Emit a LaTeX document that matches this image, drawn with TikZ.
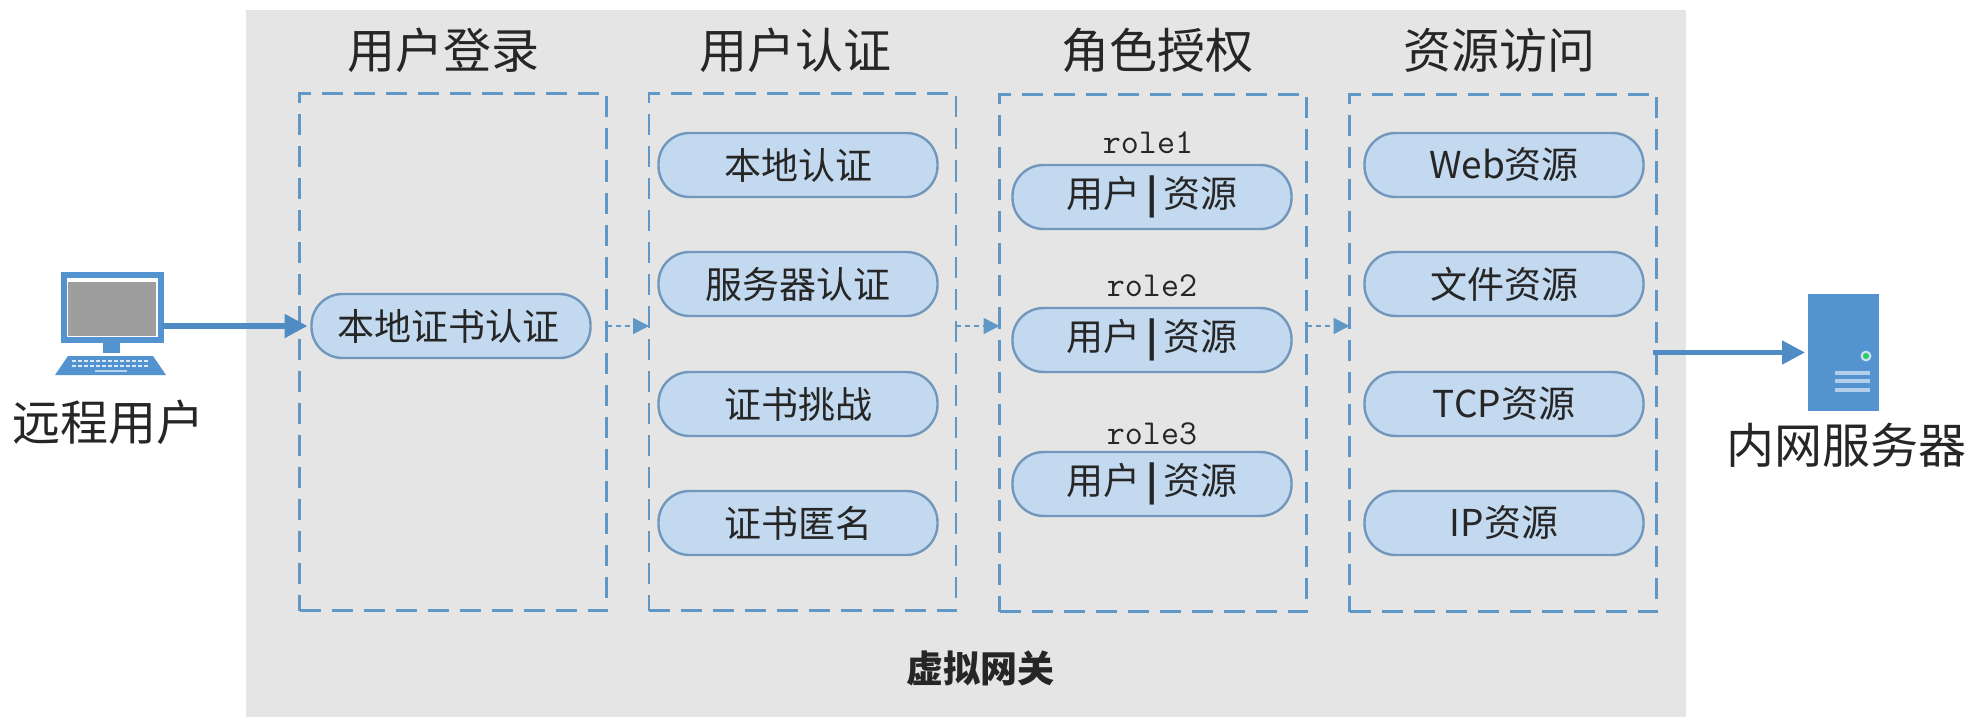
\documentclass[tikz,border=0pt]{standalone}
\usepackage{fontspec}
\usepackage{xcolor}
\usepackage{tikz}
\usetikzlibrary{arrows.meta}
\setmainfont{Noto Sans CJK SC}
\definecolor{panelgray}{HTML}{E5E5E5}
\definecolor{dashblue}{HTML}{5F97C6}
\definecolor{pillfill}{HTML}{C3D9EF}
\definecolor{pilledge}{HTML}{7197BC}
\definecolor{iconblue}{HTML}{5393D0}
\definecolor{arrowblue}{HTML}{4F8CC4}
\definecolor{inktext}{HTML}{262626}

\begin{document}
\begin{tikzpicture}[x=0.5pt, y=-0.5pt,
  every node/.style={text=inktext, inner sep=0pt, outer sep=0pt},
  stage/.style={draw=dashblue, line width=1.2pt, dash pattern=on 10.5pt off 5.5pt, minimum width=153.5pt, minimum height=258.5pt},
  pill/.style={draw=pilledge, fill=pillfill, line width=1.2pt, rounded corners=15.5pt, minimum width=139.5pt, minimum height=32pt, font=\fontsize{18.5}{20}\selectfont},
  title/.style={font=\fontsize{24}{26}\selectfont},
  rolename/.style={font=\fontsize{17.5}{20}\ttfamily},
  caption/.style={font=\fontsize{24}{26}\selectfont},
  hop/.style={draw=dashblue, line width=0.8pt, dash pattern=on 2.5pt off 2pt, -{Triangle[length=8pt,width=8pt]}},
  link/.style={draw=arrowblue, -{Triangle[length=11.5pt,width=11.5pt]}}]
  \useasboundingbox (0,0) rectangle (1972,717);
  \node (panel) at (966,364) [fill=panelgray, minimum width=720pt, minimum height=353.5pt] {};

  \node (T1) at (443,50) [title] {用户登录};
  \node (T2) at (795,50) [title] {用户认证};
  \node (T3) at (1157,50) [title] {角色授权};
  \node (T4) at (1499,50) [title] {资源访问};

  \node (login) at (453,352) [stage] {};
  \node (auth) at (802.5,352) [stage] {};
  \node (role) at (1153,353) [stage] {};
  \node (access) at (1503,353) [stage] {};

  \node (L1) at (451,326) [pill] {\hspace{-3pt}本地证书认证};

  \node (A1) at (798,165) [pill] {本地认证};
  \node (A2) at (798,284) [pill] {服务器认证};
  \node (A3) at (798,404) [pill] {证书挑战};
  \node (A4) at (798,523) [pill] {证书匿名};

  \node (R1) at (1148,143) [rolename] {role1};
  \node (R2) at (1152,286) [rolename] {role2};
  \node (R3) at (1152,434) [rolename] {role3};
  \node (U1) at (1152,197) [pill] {用户\,\textbf{|}\,资源};
  \node (U2) at (1152,340) [pill] {用户\,\textbf{|}\,资源};
  \node (U3) at (1152,484) [pill] {用户\,\textbf{|}\,资源};

  \node (W1) at (1504,165) [pill] {Web资源};
  \node (W2) at (1504,284) [pill] {文件资源};
  \node (W3) at (1504,404) [pill] {TCP资源};
  \node (W4) at (1504,523) [pill] {IP资源};

  \node (gate) at (980,668) [font=\fontsize{18.5}{20}\bfseries\selectfont] {虚拟网关};

  \node (pc) at (112,307) [draw=iconblue, fill=white, line width=3pt, minimum width=48.5pt, minimum height=32.5pt] {};
  \node (screen) at (112,309) [fill=black!38, minimum width=44pt, minimum height=27pt] {};
  \node (neck) at (111.5,348) [fill=iconblue, minimum width=8.5pt, minimum height=5pt] {};
  \fill[iconblue] (68,356) -- (153,356) -- (166,375) -- (55,375) -- cycle;
  \foreach \r in {361,366}
    \draw[white!80!iconblue, line width=1.2pt, dash pattern=on 2pt off 1pt] (72,\r) -- (149,\r);
  \draw[white!60!iconblue, line width=1.2pt] (95,371) -- (127,371);
  \node (pclabel) at (108,422) [caption] {远程用户};

  \node (server) at (1843.5,352.5) [fill=iconblue, minimum width=35.5pt, minimum height=58.5pt] {};
  \fill[white!70!iconblue] (1866,356) circle (5.5);
  \fill[green!55!iconblue] (1866,356) circle (3);
  \foreach \r in {373,381,390}
    \draw[white!55!iconblue, line width=1.6pt] (1835,\r) -- (1870,\r);
  \node (srvlabel) at (1846,445) [caption] {内网服务器};

  \draw[link, line width=2.6pt, shorten >=2pt] (pc.east |- L1) -- (L1.west);
  \draw[hop] (login.east |- L1) -- (auth.west |- L1);
  \draw[hop] (auth.east |- L1) -- (role.west |- L1);
  \draw[hop] (role.east |- L1) -- (access.west |- L1);
  \draw[link, line width=2.4pt, shorten >=1.5pt] ([xshift=-2pt]access.east |- server) -- (server.west);
\end{tikzpicture}
\end{document}
